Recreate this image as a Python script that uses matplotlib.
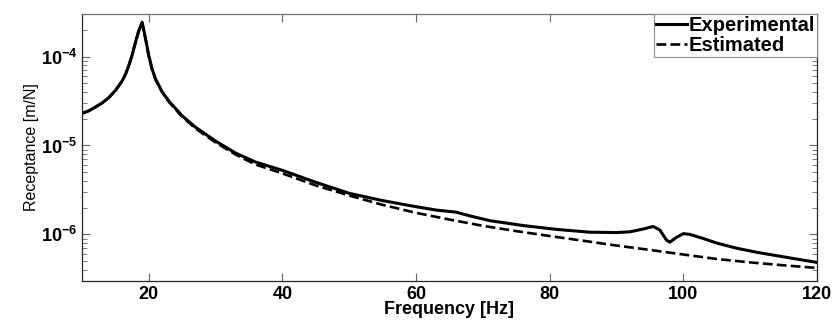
import numpy as np
import matplotlib
matplotlib.use('Agg')
import matplotlib.pyplot as plt
from matplotlib.ticker import LogLocator, NullFormatter

plt.rcParams['font.family'] = ['Liberation Sans', 'DejaVu Sans']
plt.rcParams['mathtext.fontset'] = 'custom'
plt.rcParams['mathtext.rm'] = 'Liberation Sans'
plt.rcParams['mathtext.it'] = 'Liberation Sans'
plt.rcParams['mathtext.bf'] = 'Liberation Sans:bold'

freq_exp = [10, 11, 12, 13, 14, 15, 16, 16.5, 17, 17.5, 18, 18.5, 19, 19.5, 20,
            20.5, 21, 22, 23, 24, 25, 27, 30, 33, 36, 40, 45, 50, 55, 60, 63,
            66, 68, 71, 76, 81, 86, 90, 92, 94, 95.5, 96.5, 97.5, 98, 99, 100,
            101, 103, 105, 108, 111, 115, 120]
rec_exp = [2.3e-5, 2.45e-5, 2.7e-5, 3.0e-5, 3.45e-5, 4.15e-5, 5.3e-5, 6.3e-5,
           7.9e-5, 1.04e-4, 1.45e-4, 1.95e-4, 2.43e-4, 1.6e-4, 1.02e-4,
           7.2e-5, 5.6e-5, 4.0e-5, 3.15e-5, 2.6e-5, 2.15e-5, 1.6e-5, 1.12e-5,
           8.2e-6, 6.5e-6, 5.25e-6, 3.85e-6, 2.9e-6, 2.4e-6, 2.05e-6, 1.88e-6,
           1.78e-6, 1.62e-6, 1.43e-6, 1.26e-6, 1.14e-6, 1.06e-6, 1.05e-6,
           1.07e-6, 1.15e-6, 1.23e-6, 1.12e-6, 8.6e-7, 8.2e-7, 9.3e-7, 1.02e-6,
           1.0e-6, 9.0e-7, 8.0e-7, 7.0e-7, 6.3e-7, 5.6e-7, 4.85e-7]

freq_est = [10, 11, 12, 13, 14, 15, 16, 16.5, 17, 17.5, 18, 18.5, 19, 19.5, 20,
            20.5, 21, 22, 23, 24, 25, 27, 30, 33, 36, 40, 45, 50, 55, 60, 65,
            70, 75, 80, 85, 90, 95, 100, 105, 110, 115, 120]
rec_est = [2.3e-5, 2.45e-5, 2.7e-5, 3.0e-5, 3.45e-5, 4.15e-5, 5.3e-5, 6.3e-5,
           7.9e-5, 1.04e-4, 1.45e-4, 1.95e-4, 2.4e-4, 1.58e-4, 1.0e-4,
           7.0e-5, 5.5e-5, 3.95e-5, 3.1e-5, 2.55e-5, 2.1e-5, 1.55e-5, 1.08e-5,
           7.9e-6, 6.1e-6, 4.85e-6, 3.55e-6, 2.74e-6, 2.15e-6, 1.75e-6, 1.47e-6,
           1.25e-6, 1.09e-6, 9.6e-7, 8.5e-7, 7.5e-7, 6.7e-7, 5.95e-7, 5.3e-7,
           4.85e-7, 4.5e-7, 4.2e-7]

fig = plt.figure(figsize=(8.37, 3.2), dpi=100)
ax = fig.add_axes([0.098, 0.122, 0.878, 0.834])

ax.semilogy(freq_exp, rec_exp, 'k-', lw=2.2, label='Experimental')
ax.semilogy(freq_est, rec_est, 'k--', lw=1.9, label='Estimated')

ax.set_xlim(10, 120)
ax.set_ylim(3e-7, 3e-4)
ax.set_xticks([20, 40, 60, 80, 100, 120])
ax.yaxis.set_major_locator(LogLocator(base=10, numticks=10))
ax.yaxis.set_minor_locator(LogLocator(base=10, subs=np.arange(2, 10), numticks=10))
ax.yaxis.set_minor_formatter(NullFormatter())

ax.tick_params(which='both', direction='in', top=True, right=True, colors='0.4',
               labelcolor='black', labelsize=13)
ax.tick_params(which='major', length=6)
ax.tick_params(which='minor', length=3.5)
for lab in ax.get_xticklabels() + ax.get_yticklabels():
    lab.set_fontweight('bold')
for s in ax.spines.values():
    s.set_color('0.45')
    s.set_linewidth(0.9)
ax.spines['left'].set_color('0.15')
ax.spines['bottom'].set_color('0.15')
ax.spines['right'].set_color('0.15')

ax.set_xlabel('Frequency [Hz]', fontsize=13, fontweight='bold', labelpad=-1)
ax.set_ylabel('Receptance [m/N]', fontsize=11.5, labelpad=1)

leg = ax.legend(loc='upper right', prop={'size': 14.5, 'weight': 'bold'},
                handlelength=1.5, handletextpad=0.1, borderaxespad=0.0,
                borderpad=0.1, labelspacing=0.05, fancybox=False, framealpha=1)
leg.get_frame().set_edgecolor('0.55')
leg.get_frame().set_linewidth(0.8)

fig.savefig('out.png', dpi=100)
